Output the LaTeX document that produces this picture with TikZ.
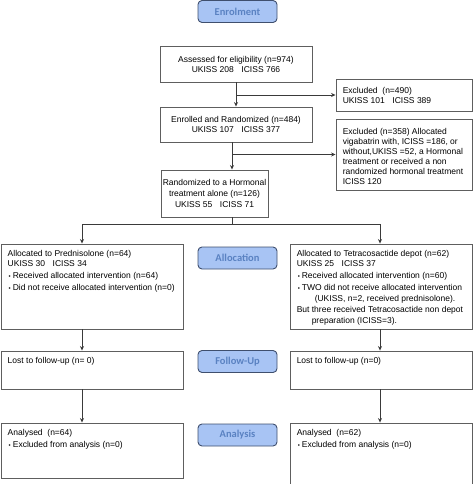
\documentclass[tikz,border=0pt]{standalone}
\usepackage{fontspec}
\setmainfont{Liberation Sans}
\newfontfamily\labfont{Carlito}
\usetikzlibrary{arrows.meta,calc}
\definecolor{boxline}{HTML}{5E5E5E}
\definecolor{arrowc}{HTML}{3A3A3A}
\definecolor{phasefill}{HTML}{A8C4F4}
\definecolor{phaseline}{HTML}{3F4F6E}
\definecolor{phasetext}{HTML}{5A82C2}
\newcommand{\bul}{\raisebox{0.6pt}{\fontsize{6}{6}\selectfont\textbullet}}
\begin{document}
\begin{tikzpicture}[x=1pt,y=-1pt,
  font=\fontsize{8.5}{10}\selectfont,
  box/.style={draw=boxline, line width=0.9pt, fill=white, inner sep=0pt},
  phase/.style={draw=phaseline, fill=phasefill, rounded corners=4pt, line width=0.9pt,
    text=phasetext, font=\labfont\bfseries\fontsize{10.5}{12}\selectfont,
    minimum width=79pt, minimum height=22pt, inner sep=0pt},
  txt/.style={inner sep=0pt, align=left, anchor=north west},
  wtxt/.style={inner sep=0pt, align=left, anchor=west},
  arr/.style={draw=arrowc, line width=0.8pt, -{Stealth[length=4.5pt,width=4pt]}},
  ln/.style={draw=arrowc, line width=0.8pt}]
\useasboundingbox (0,0) rectangle (474,484);

% phase labels
\node[phase] (enrol) at (237.5,11.5) {Enrolment};
\node[phase] (alloc) at (237.5,258) {Allocation};
\node[phase] (follow) at (237.5,361.5) {Follow-Up};
\node[phase] (analysis) at (237.5,435) {Analysis};

% top boxes
\node[box, align=center, minimum width=152pt, minimum height=36pt] (assess) at (236,64)
  {Assessed for eligibility (n=974)\\UKISS 208\hspace{0.9em}ICISS 766};
\node[box, minimum width=136pt, minimum height=32pt] (excl1) at (404,95) {};
\node[wtxt] (excl1t) at ($(excl1.west)+(7,0)$)
  {Excluded\ \ (n=490)\\UKISS 101\hspace{0.9em}ICISS 389};
\node[box, align=center, minimum width=152pt, minimum height=35pt] (enrolled) at (236,124.5)
  {Enrolled and Randomized (n=484)\\UKISS 107\hspace{0.9em}ICISS 377};
\node[box, minimum width=136pt, minimum height=71pt] (excl2) at (404,154.5) {};
\node[wtxt] (excl2t) at ($(excl2.west)+(7,1.5)$)
  {Excluded (n=358) Allocated\\vigabatrin with, ICISS =186, or\\without,UKISS =52, a Hormonal\\treatment or received a non\\randomized hormonal treatment\\ICISS 120};
\node[box, align=center, minimum width=107pt, minimum height=47pt, font=\fontsize{8.5}{11}\selectfont] (rand) at (214.5,193.5)
  {Randomized to a Hormonal\\treatment alone (n=126)\\UKISS 55\hspace{0.9em}ICISS 71};

% allocation boxes
\node[box, minimum width=182pt, minimum height=85pt] (allocL) at (92,286.5) {};
\node[txt] (allocLt) at ($(allocL.north west)+(7,7)$)
  {Allocated to Prednisolone (n=64)\\
   UKISS 30\hspace{0.9em}ICISS 34\\[2pt]
   \hspace{1pt}\bul\hspace{2pt}Received allocated intervention (n=64)\\[2pt]
   \hspace{1pt}\bul\hspace{2pt}Did not receive allocated intervention (n=0)};
\node[box, minimum width=182pt, minimum height=85pt] (allocR) at (381,286.5) {};
\node[txt] (allocRt) at ($(allocR.north west)+(7,7)$)
  {Allocated to Tetracosactide depot (n=62)\\
   UKISS 25\hspace{0.9em}ICISS 37\\[2pt]
   \hspace{1pt}\bul\hspace{2pt}Received allocated intervention (n=60)\\[2pt]
   \hspace{1pt}\bul\hspace{2pt}TWO did not receive allocated intervention\\[1pt]
   \hspace{18pt}(UKISS, n=2, received prednisolone).\\[1pt]
   But three received Tetracosactide non depot\\[1pt]
   \hspace{15pt}preparation (ICISS=3).};

% follow-up boxes
\node[box, minimum width=182pt, minimum height=38pt] (lostL) at (92,370) {};
\node[txt] (lostLt) at ($(lostL.north west)+(7,7)$) {Lost to follow-up (n= 0)};
\node[box, minimum width=182pt, minimum height=38pt] (lostR) at (381,370) {};
\node[txt] (lostRt) at ($(lostR.north west)+(7,7)$) {Lost to follow-up (n=0)};

% analysis boxes
\node[box, minimum width=182pt, minimum height=55pt] (anaL) at (92,450.5) {};
\node[txt] (anaLt) at ($(anaL.north west)+(7,7)$)
  {Analysed\ \ (n=64)\\[2pt]\hspace{1pt}\bul\hspace{2pt}Excluded from analysis (n=0)};
\node[box, minimum width=182pt, minimum height=66pt] (anaR) at (381,456) {};
\node[txt] (anaRt) at ($(anaR.north west)+(7,7)$)
  {Analysed\ \ (n=62)\\[2pt]\hspace{1pt}\bul\hspace{2pt}Excluded from analysis (n=0)};

% connectors
\coordinate (xr) at (232,0);
\coordinate (sl) at (82,224);
\coordinate (sr) at (380,224);
\draw[arr] (assess.south) -- (enrolled.north);
\draw[arr] (assess.south |- excl1.west) -- (excl1.west);
\draw[arr] (xr |- enrolled.south) -- (xr |- rand.north);
\draw[arr] (xr |- excl2.west) -- (excl2.west);
\draw[ln] (xr |- rand.south) -- (xr |- sl);
\draw[ln] (sl) -- (sr);
\draw[arr] (sl) -- (sl |- allocL.north);
\draw[arr] (sr) -- (sr |- allocR.north);
\draw[arr] (sl |- allocL.south) -- (sl |- lostL.north);
\draw[arr] (sr |- allocR.south) -- (sr |- lostR.north);
\draw[arr] (sl |- lostL.south) -- (sl |- anaL.north);
\draw[arr] (sr |- lostR.south) -- (sr |- anaR.north);
\end{tikzpicture}
\end{document}
